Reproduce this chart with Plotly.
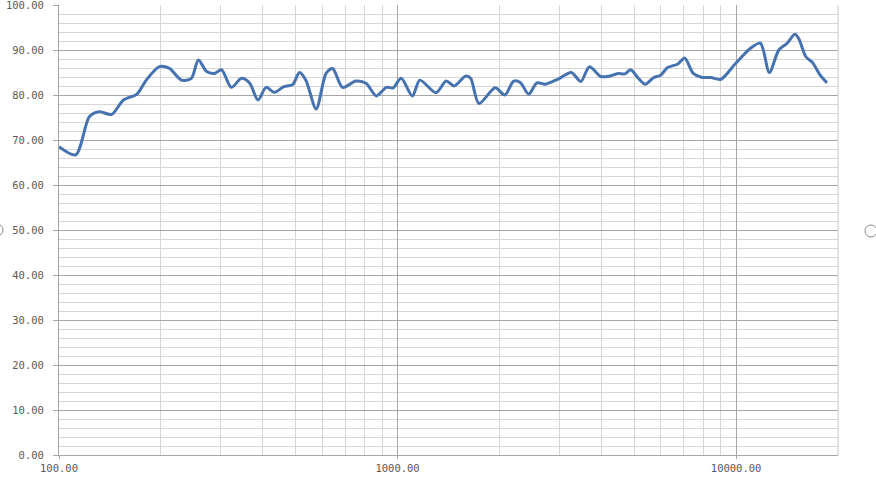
import math
import plotly.graph_objects as go

freq = [100, 112, 123, 131, 143, 155, 170, 181, 198, 212, 230, 246, 258, 273, 288, 302, 323, 346, 366, 387,
        409, 433, 460, 490, 513, 536, 575, 615, 643, 688, 753, 807, 866, 927, 971, 1025, 1106, 1164, 1299, 1392,
        1469, 1590, 1644, 1740, 1943, 2074, 2203, 2304, 2440, 2580, 2732, 2992, 3260, 3478, 3688, 3987, 4226,
        4479, 4694, 4882, 5146, 5392, 5714, 5985, 6276, 6731, 7048, 7473, 7936, 8423, 9020, 9960, 11030, 11800,
        12540, 13370, 14150, 14900, 15300, 16070, 16820, 17720, 18550]
spl = [68.5, 66.7, 75.2, 76.3, 75.7, 78.9, 80.2, 83.3, 86.3, 85.9, 83.3, 83.7, 87.8, 85.2, 84.8, 85.6, 81.7, 83.7,
       82.6, 78.9, 81.7, 80.6, 81.8, 82.3, 85.0, 83.3, 76.9, 84.8, 85.9, 81.7, 83.1, 82.6, 79.8, 81.7, 81.6, 83.7,
       79.8, 83.3, 80.5, 83.1, 82.0, 84.2, 83.7, 78.1, 81.6, 80.0, 83.1, 82.8, 80.2, 82.7, 82.4, 83.6, 85.0, 83.0,
       86.3, 84.1, 84.2, 84.8, 84.7, 85.6, 83.7, 82.4, 83.9, 84.4, 86.1, 86.9, 88.2, 84.8, 83.9, 83.9, 83.5, 87.0,
       90.4, 91.5, 85.0, 90.0, 91.5, 93.5, 92.6, 88.5, 87.2, 84.4, 82.7]

x_ticks = [100, 1000, 10000]
x_labels = ["100.00", "1000.00", "10000.00"]
x_minor = [m * d for d in (100, 1000, 10000) for m in range(2, 10)] + [20000]
y_ticks = list(range(0, 101, 10))
y_labels = ["%.2f" % v for v in y_ticks]

fig = go.Figure()
fig.add_trace(go.Scatter(x=freq, y=spl, mode="lines",
                         line=dict(color="#4672AF", width=3, shape="spline", smoothing=0.8),
                         showlegend=False, hoverinfo="skip"))

font = dict(family="DejaVu Sans Mono, monospace", size=10.5, color="#595959")
fig.update_layout(
    width=876, height=479,
    margin=dict(l=59, r=38, t=5, b=24, autoexpand=False),
    paper_bgcolor="white", plot_bgcolor="white",
    font=font,
    xaxis=dict(type="log", range=[2, math.log10(20000)],
               tickmode="array", tickvals=x_ticks, ticktext=x_labels,
               showgrid=True, gridcolor="#a6a6a6", gridwidth=1,
               ticks="outside", ticklen=3, tickcolor="#a6a6a6",
               showline=True, linecolor="#a6a6a6", linewidth=1,
               automargin=False, ticklabeloverflow="allow",
               minor=dict(tickmode="array", tickvals=x_minor, showgrid=True,
                          gridcolor="#d6d6d6", gridwidth=1, ticks=""),
               zeroline=False),
    yaxis=dict(range=[-0.001, 100.001], tickmode="array", tickvals=y_ticks, ticktext=y_labels,
               showgrid=True, gridcolor="#a6a6a6", gridwidth=1,
               ticks="outside", ticklen=5, tickcolor="#a6a6a6",
               showline=True, linecolor="#a6a6a6", linewidth=1,
               automargin=False, ticklabelstandoff=7, ticklabeloverflow="allow",
               minor=dict(dtick=2, showgrid=True, gridcolor="#d6d6d6", gridwidth=1, ticks=""),
               zeroline=False),
    shapes=[
        dict(type="line", xref="paper", yref="paper", x0=1, x1=1, y0=0, y1=1,
             line=dict(color="#c8c8c8", width=1)),
        dict(type="circle", xref="paper", yref="paper",
             x0=(-9 - 59) / 779, x1=(3 - 59) / 779, y0=(455 - 236) / 450, y1=(455 - 224) / 450,
             line=dict(color="#8c8c8c", width=1)),
        dict(type="circle", xref="paper", yref="paper",
             x0=(865 - 59) / 779, x1=(877 - 59) / 779, y0=(455 - 237) / 450, y1=(455 - 225) / 450,
             line=dict(color="#8c8c8c", width=1)),
    ],
)

fig.write_html("out.html",
               config={"displayModeBar": False},
               post_script="document.body.style.margin='0';document.body.style.overflow='hidden';")
